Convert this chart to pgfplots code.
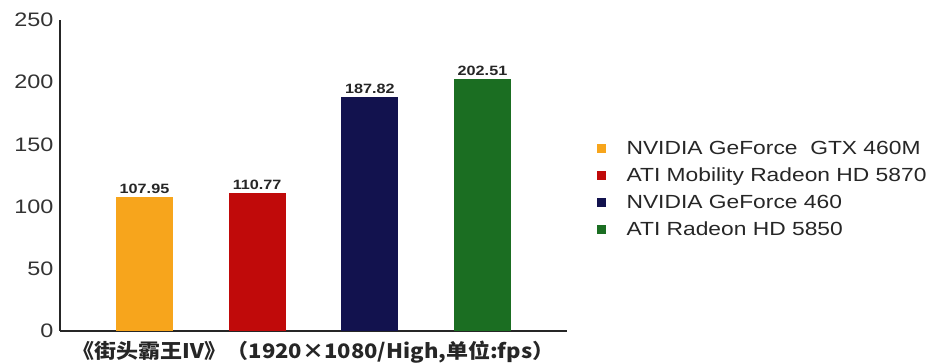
\documentclass[border=0pt]{standalone}
\usepackage{pgfplots}
\pgfplotsset{compat=1.18}
\usepackage{fontspec}
\setmainfont{Liberation Sans}[FakeStretch=1.2]
\newfontfamily\cjk{Noto Sans CJK SC}[FakeStretch=1.1]
\definecolor{cOrange}{HTML}{F7A51C}
\definecolor{cRed}{HTML}{C00A0A}
\definecolor{cNavy}{HTML}{12124E}
\definecolor{cGreen}{HTML}{1B6E22}
\pgfplotsset{sqleg/.style={legend image code/.code={\fill[##1,draw=none] (0pt,-4.5pt) rectangle (9pt,4.5pt);}}}
\begin{document}
\begin{tikzpicture}[x=1pt,y=1pt]
\useasboundingbox (0,0) rectangle (935,364);
\begin{axis}[at={(60pt,33pt)}, anchor=south west, scale only axis,
  width=507pt, height=311pt,
  ymin=0, ymax=250, xmin=-0.75, xmax=3.75,
  axis x line=bottom, axis y line=left,
  axis line style={-, line width=1.6pt, black!85},
  ytick={0,50,...,250}, xtick=\empty, major tick length=0pt,
  yticklabel style={font=\fontsize{19.5}{21}\selectfont, text=black!80, xshift=-3pt},
  /pgf/number format/assume math mode=true,
  ybar, bar width=57pt, bar shift=0pt,
  nodes near coords,
  nodes near coords style={font=\fontsize{13.5}{15}\selectfont\bfseries, text=black!85,
    /pgf/number format/.cd, fixed, precision=2, fixed zerofill},
  xlabel={\bfseries\fontsize{20}{22}\selectfont\cjk 《街头霸王Ⅳ》（1920×1080/High,单位:fps）},
  xlabel style={at={(axis description cs:0.5,-0.068)}, anchor=center, text=black!85},
  legend style={at={(1.052,0.457)}, anchor=west, draw=none, fill=none,
    font=\fontsize{19}{22}\selectfont, text=black!85, row sep=8pt,
    /tikz/every odd column/.append style={column sep=19pt}},
  legend cell align=left,
]
\addplot[fill=cOrange, draw=none, sqleg] coordinates {(0,107.95)};
\addplot[fill=cRed, draw=none, sqleg] coordinates {(1,110.77)};
\addplot[fill=cNavy, draw=none, sqleg] coordinates {(2,187.82)};
\addplot[fill=cGreen, draw=none, sqleg] coordinates {(3,202.51)};
\legend{NVIDIA GeForce\ \ GTX 460M, ATI Mobility Radeon HD 5870, NVIDIA GeForce 460, ATI Radeon HD 5850}
\end{axis}
\end{tikzpicture}
\end{document}
